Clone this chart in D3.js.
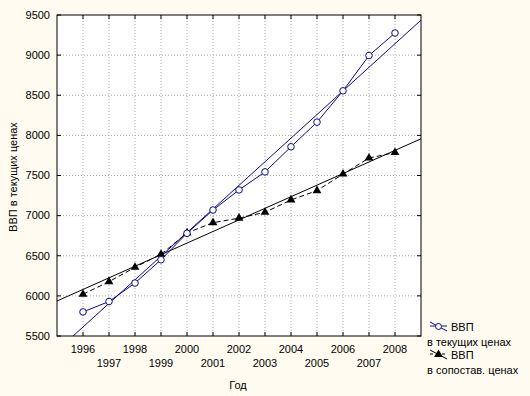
<!DOCTYPE html>
<html lang="ru">
<head>
<meta charset="UTF-8">
<title>ВВП</title>
<style>
  html, body { margin: 0; padding: 0; background: #fffbf0; }
  svg { display: block; font-family: "Liberation Sans", Arial, sans-serif; font-size: 11px; }
</style>
</head>
<body>
<svg id="chart" width="530" height="396"></svg>
<script src="https://d3js.org/d3.v7.min.js"></script>
<script>
// --- данные ---
const years = [1996, 1997, 1998, 1999, 2000, 2001, 2002, 2003, 2004, 2005, 2006, 2007, 2008];
const gdpCurrent = [5800, 5930, 6160, 6450, 6780, 7070, 7320, 7545, 7858, 8165, 8555, 8995, 9276];
const gdpComparable = [6020, 6177, 6356, 6518, 6785, 6912, 6968, 7042, 7195, 7312, 7518, 7718, 7786];
const yTicks = [5500, 6000, 6500, 7000, 7500, 8000, 8500, 9000, 9500];

const margin = { top: 15, right: 109, bottom: 60, left: 57 };
const W = 530, H = 396;
const width = W - margin.left - margin.right;   // 364
const height = H - margin.top - margin.bottom;  // 321

const svg = d3.select("#chart");
const g = svg.append("g").attr("transform", `translate(${margin.left},${margin.top})`);

const x = d3.scaleLinear().domain([1995, 2009]).range([0, width]);
const y = d3.scaleLinear().domain([5500, 9500]).range([height, 0]);

// фон области графика
g.append("rect").attr("width", width).attr("height", height).attr("fill", "#fff");

// сетка
g.append("g").selectAll("line").data(years).join("line")
  .attr("x1", d => x(d)).attr("x2", d => x(d)).attr("y1", 0).attr("y2", height)
  .attr("stroke", "#a8a8a8").attr("stroke-dasharray", "1,2");
g.append("g").selectAll("line").data(yTicks.slice(1, -1)).join("line")
  .attr("y1", d => y(d)).attr("y2", d => y(d)).attr("x1", 0).attr("x2", width)
  .attr("stroke", "#a8a8a8").attr("stroke-dasharray", "1,2");

// линейная регрессия
function fit(xs, ys) {
  const mx = d3.mean(xs), my = d3.mean(ys);
  const b = d3.sum(xs, (v, i) => (v - mx) * (ys[i] - my)) / d3.sum(xs, v => (v - mx) * (v - mx));
  return t => my + b * (t - mx);
}
const fitCur = fit(years, gdpCurrent);
const fitCmp = fit(years, gdpComparable);

g.append("clipPath").attr("id", "clip").append("rect").attr("width", width).attr("height", height);
const plot = g.append("g").attr("clip-path", "url(#clip)");

const blue = "#0a0a8c";
const line = d3.line().x(d => x(d[0])).y(d => y(d[1]));

plot.append("path").datum(x.domain().map(t => [t, fitCmp(t)]))
  .attr("d", line).attr("fill", "none").attr("stroke", "#000");
plot.append("path").datum(x.domain().map(t => [t, fitCur(t)]))
  .attr("d", line).attr("fill", "none").attr("stroke", blue);

plot.append("path").datum(years.map((t, i) => [t, gdpComparable[i]]))
  .attr("d", line).attr("fill", "none").attr("stroke", "#000").attr("stroke-dasharray", "5,3");
plot.append("path").datum(years.map((t, i) => [t, gdpCurrent[i]]))
  .attr("d", line).attr("fill", "none").attr("stroke", blue);

const tri = d3.symbol().type(d3.symbolTriangle).size(34);
plot.append("g").selectAll("path").data(years).join("path")
  .attr("transform", (d, i) => `translate(${x(d)},${y(gdpComparable[i])})`)
  .attr("d", tri).attr("fill", "#000");
plot.append("g").selectAll("circle").data(years).join("circle")
  .attr("cx", d => x(d)).attr("cy", (d, i) => y(gdpCurrent[i])).attr("r", 3.3)
  .attr("fill", "#fff").attr("stroke", blue);

// рамка и засечки
g.append("rect").attr("width", width).attr("height", height).attr("fill", "none").attr("stroke", "#000");
g.append("g").selectAll("line").data(years).join("line")
  .attr("x1", d => x(d)).attr("x2", d => x(d)).attr("y1", height).attr("y2", height - 4).attr("stroke", "#000");
g.append("g").selectAll("line").data(years).join("line")
  .attr("x1", d => x(d)).attr("x2", d => x(d)).attr("y1", 0).attr("y2", 4).attr("stroke", "#000");
g.append("g").selectAll("line").data(yTicks).join("line")
  .attr("y1", d => y(d)).attr("y2", d => y(d)).attr("x1", 0).attr("x2", 4).attr("stroke", "#000");
g.append("g").selectAll("line").data(yTicks).join("line")
  .attr("y1", d => y(d)).attr("y2", d => y(d)).attr("x1", width).attr("x2", width - 4).attr("stroke", "#000");

// подписи осей
g.append("g").selectAll("text").data(yTicks).join("text")
  .attr("x", -7).attr("y", d => y(d)).attr("dy", "0.35em")
  .attr("text-anchor", "end").attr("fill", "#000").text(d => d);
g.append("g").selectAll("text").data(years).join("text")
  .attr("x", d => x(d)).attr("y", (d, i) => height + (i % 2 === 0 ? 13 : 27)).attr("dy", "0.35em")
  .attr("text-anchor", "middle").attr("fill", "#000").text(d => d);

svg.append("text").attr("x", 238).attr("y", 385).attr("dy", "0.35em")
  .attr("text-anchor", "middle").text("Год");
svg.append("text").attr("transform", "translate(13,177) rotate(-90)").attr("dy", "0.35em")
  .attr("text-anchor", "middle").text("ВВП в текущих ценах");

// легенда
const lg = svg.append("g");
lg.append("line").attr("x1", 430).attr("y1", 322).attr("x2", 447).attr("y2", 331).attr("stroke", blue);
lg.append("line").attr("x1", 430).attr("y1", 326).attr("x2", 447).attr("y2", 326).attr("stroke", blue);
lg.append("circle").attr("cx", 438.5).attr("cy", 326.5).attr("r", 3).attr("fill", "#fff").attr("stroke", blue);
lg.append("text").attr("x", 451).attr("y", 327).attr("dy", "0.35em").text("ВВП");
lg.append("text").attr("x", 427).attr("y", 342).attr("dy", "0.35em").text("в текущих ценах");
lg.append("line").attr("x1", 430).attr("y1", 350).attr("x2", 447).attr("y2", 359).attr("stroke", "#000");
lg.append("line").attr("x1", 430).attr("y1", 354).attr("x2", 447).attr("y2", 354).attr("stroke", "#000").attr("stroke-dasharray", "3,3");
lg.append("path").attr("transform", "translate(438.5,354.5)").attr("d", tri).attr("fill", "#000");
lg.append("text").attr("x", 451).attr("y", 355).attr("dy", "0.35em").text("ВВП");
lg.append("text").attr("x", 427).attr("y", 370).attr("dy", "0.35em").text("в сопостав. ценах");
</script>
</body>
</html>
